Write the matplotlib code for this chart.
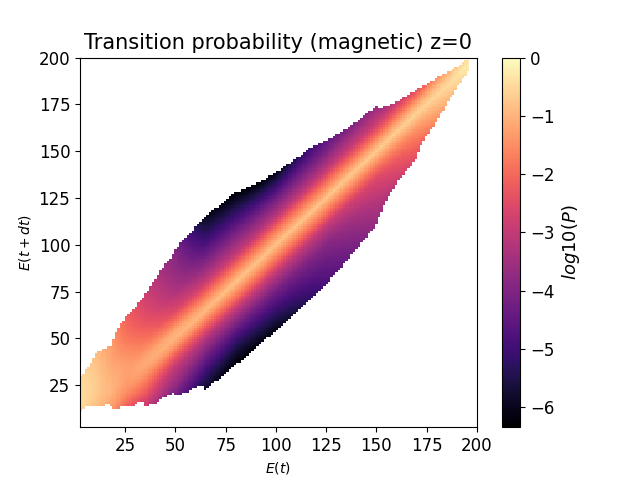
import numpy as np
import matplotlib
matplotlib.use("Agg")
import matplotlib.pyplot as plt

# ---- valori ----
# nodi in E(t) e scostamenti d = E(t+dt) - E(t)
E_nodes = [3, 10, 18, 25, 35, 50, 65, 80, 100, 125, 150, 170, 185, 196]
d_nodes = [-60, -45, -35, -25, -15, -9, -4, 0, 4, 9, 15, 25, 35, 45, 55, 70]

# log10(P) stimato per ogni nodo di E (una riga per nodo)
logp_rows = [
    [-9, -9, -9, -9, -9, -9, -9, -2.0, -0.9, -0.5, -0.45, -0.5, -0.9, -9, -9, -9],
    [-9, -9, -9, -9, -9, -9, -2.0, -1.0, -0.8, -0.7, -0.65, -0.75, -0.9, -2.0, -9, -9],
    [-9, -9, -9, -9, -3.0, -1.5, -1.25, -1.1, -1.0, -1.0, -1.1, -1.25, -1.4, -1.8, -9, -9],
    [-9, -9, -9, -9, -2.5, -1.85, -1.5, -1.35, -1.25, -1.25, -1.4, -1.8, -2.05, -2.6, -9, -9],
    [-9, -9, -9, -3.2, -2.3, -1.8, -1.4, -1.15, -1.15, -1.5, -1.9, -2.4, -2.7, -3.0, -9, -9],
    [-9, -9, -4.6, -3.7, -3.0, -2.2, -1.4, -1.0, -1.1, -1.8, -2.6, -3.3, -3.65, -3.9, -4.3, -9],
    [-9, -6.0, -5.2, -4.3, -3.2, -2.2, -1.4, -0.9, -1.3, -2.0, -2.9, -3.9, -4.8, -5.6, -6.4, -9],
    [-9, -6.4, -5.5, -4.4, -3.1, -2.0, -1.3, -0.8, -1.3, -2.0, -3.0, -4.0, -5.0, -6.0, -7.0, -9],
    [-7.5, -6.0, -5.1, -4.2, -3.0, -2.0, -1.3, -0.8, -1.3, -2.0, -3.1, -4.3, -5.6, -7.0, -9, -9],
    [-6.5, -4.8, -4.4, -3.9, -3.0, -2.0, -1.3, -0.75, -1.3, -2.0, -3.0, -4.1, -4.8, -7.0, -9, -9],
    [-6.0, -3.95, -3.5, -3.1, -2.6, -1.9, -1.2, -0.7, -1.2, -2.0, -2.9, -3.7, -5.0, -9, -9, -9],
    [-9, -9, -4.0, -2.5, -1.9, -1.5, -1.0, -0.6, -1.0, -1.8, -2.7, -5.0, -9, -9, -9, -9],
    [-9, -9, -9, -4.0, -1.5, -1.0, -0.7, -0.5, -0.8, -1.3, -3.0, -9, -9, -9, -9, -9],
    [-9, -9, -9, -9, -3.0, -1.0, -0.4, -0.25, -0.4, -1.5, -3.0, -9, -9, -9, -9, -9],
]

# valore minimo visibile (1 conteggio) sopra e sotto la diagonale
floor_up = [-0.55, -0.85, -1.3, -2.1, -2.8, -4.0, -6.0, -6.34, -6.1, -4.5, -3.6, -2.4, -1.1, -0.35]
floor_down = [-0.55, -0.85, -1.3, -2.1, -2.9, -4.2, -5.8, -6.34, -6.1, -4.9, -3.7, -2.4, -1.1, -0.35]

E_min, E_max = 2.5, 200
n_bins = 160
E_data_max = 196

# ---- griglia ----
edges = np.linspace(E_min, E_max, n_bins + 1)
centers = 0.5 * (edges[:-1] + edges[1:])

table = np.array(logp_rows)
Z = np.full((n_bins, n_bins), np.nan)   # Z[riga = E(t+dt), colonna = E(t)]

for j, e in enumerate(centers):
    if e > E_data_max:
        continue
    row = [np.interp(e, E_nodes, table[:, k]) for k in range(len(d_nodes))]
    f_up = np.interp(e, E_nodes, floor_up)
    f_dn = np.interp(e, E_nodes, floor_down)
    d = centers - e
    vals = np.interp(d, d_nodes, row)
    fl = np.where(d > 0, f_up, f_dn)
    vals[vals < fl] = np.nan
    Z[:, j] = vals

# ---- plot ----
fig = plt.figure(figsize=(6.4, 4.8), dpi=100)
Zm = np.ma.masked_invalid(Z)
pc = plt.pcolormesh(edges, edges, Zm, cmap='magma', vmin=-6.34, vmax=0)
plt.xlim(E_min, E_max)
plt.ylim(E_min, E_max)
plt.xticks([25, 50, 75, 100, 125, 150, 175, 200], fontsize=12)
plt.yticks([25, 50, 75, 100, 125, 150, 175, 200], fontsize=12)
plt.xlabel('$E(t)$', fontsize=10)
plt.ylabel('$E(t+dt)$', fontsize=10)
plt.title('Transition probability (magnetic) z=0', fontsize=15)
cb = plt.colorbar(pc)
cb.ax.tick_params(labelsize=12)
cb.set_label('$log10(P)$', fontsize=13)

plt.savefig('out.png', dpi=100)
